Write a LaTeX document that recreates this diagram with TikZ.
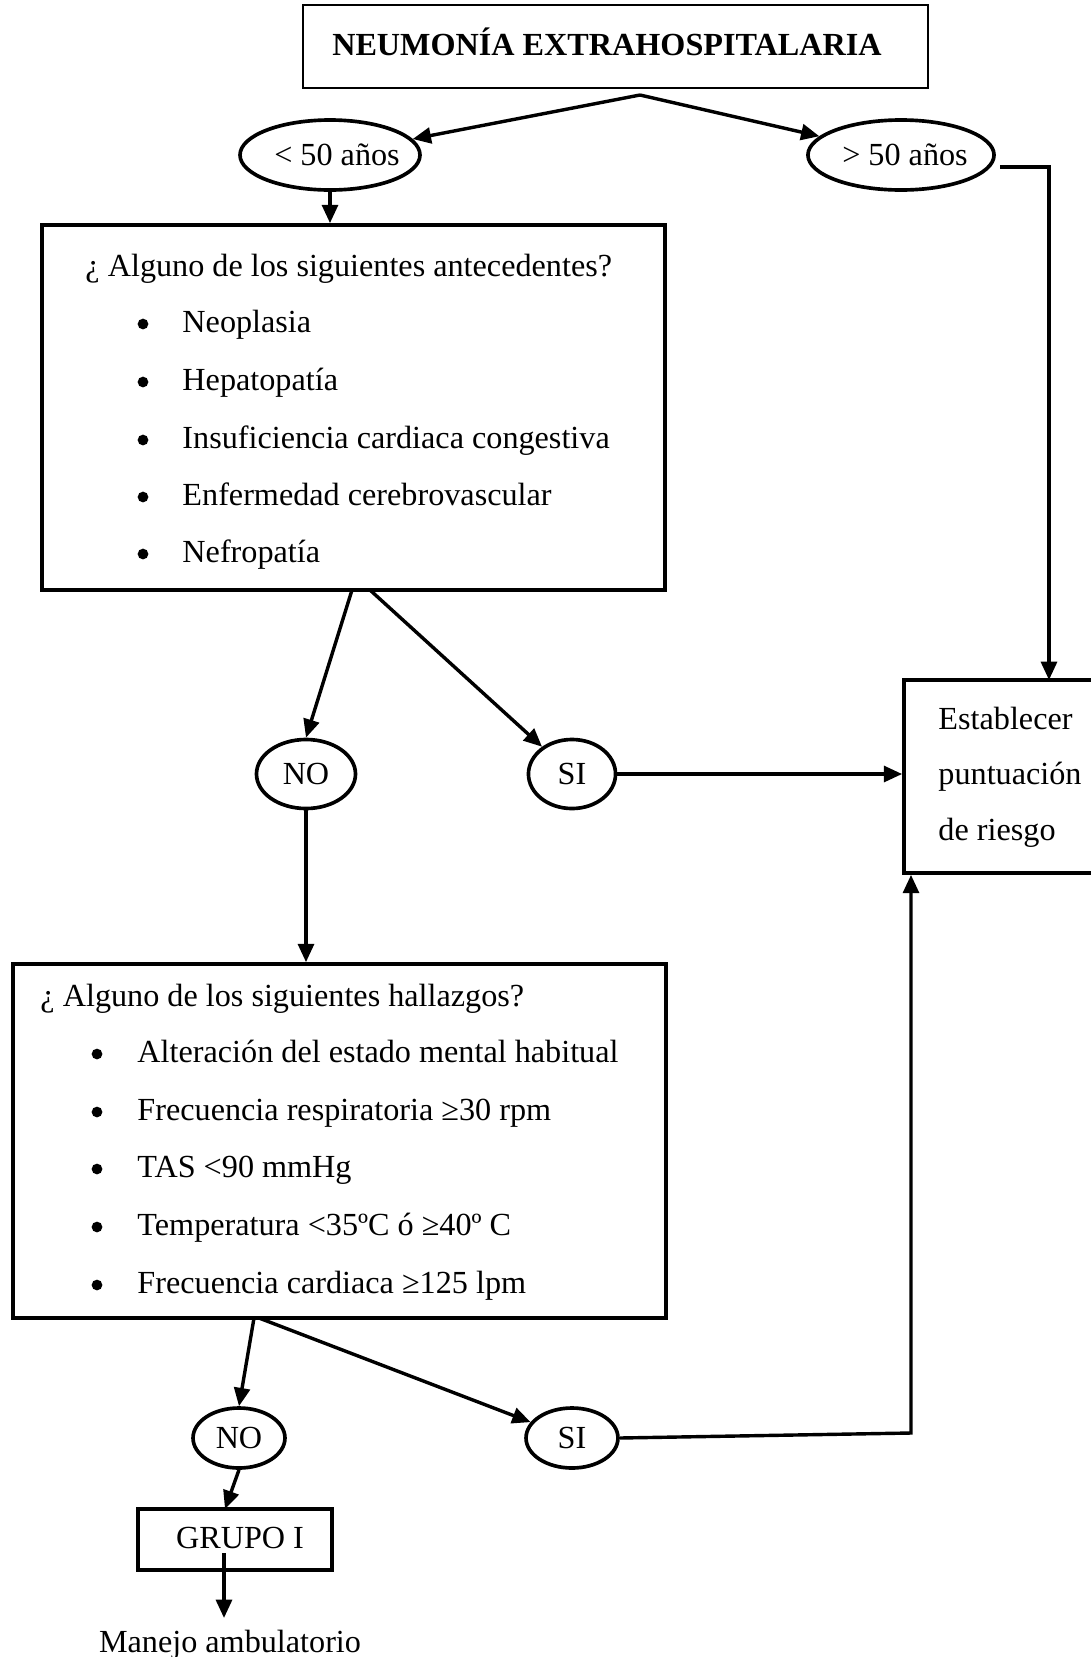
\documentclass[tikz,border=0pt]{standalone}
\usepackage{fontspec}
\setmainfont{Liberation Serif}
\usetikzlibrary{arrows.meta,shapes.geometric,fit}
\begin{document}
\begin{tikzpicture}[x=0.41pt,y=-0.41pt,
  every node/.style={font=\fontsize{13.2}{15}\selectfont},
  box/.style={draw,line width=1.5pt,inner sep=0pt},
  oval/.style={draw,ellipse,line width=1.5pt,inner sep=0pt},
  txt/.style={anchor=west,inner sep=0pt,text height=2.2ex,text depth=.4ex},
  ctxt/.style={anchor=center,inner sep=0pt,text height=2.2ex,text depth=.4ex},
  bul/.style={circle,fill,inner sep=0pt,minimum size=4.4pt},
  arr/.style={line width=1.4pt,-{Triangle[length=7.5pt,width=6.5pt]}},
  ln/.style={line width=1.4pt}]
\useasboundingbox (0,0) rectangle (1091,1657);
\begin{scope}
\clip (0,0) rectangle (1091,1657);

% title
\node[box,line width=0.7pt,fit={(303,5)(928,88)}] (title) {};
\node[ctxt,font=\fontsize{13.2}{15}\selectfont\bfseries] (titletxt) at (607,45) {NEUMONÍA EXTRAHOSPITALARIA};
\coordinate (split) at (640,95);

% age ellipses
\node[oval,minimum width=73.8pt,minimum height=28.7pt] (lt50) at (330,155) {};
\node[ctxt] (lt50txt) at (337,155) {< 50 años};
\node[oval,minimum width=76.3pt,minimum height=28.7pt] (gt50) at (901,155) {};
\node[ctxt] (gt50txt) at (905,155) {> 50 años};

% box 1
\node[box,fit={(42,225)(665,590)}] (box1) {};
\node[txt] (b1t) at (85,266) {¿ Alguno de los siguientes antecedentes?};
\node[bul] (b1a) at (143,324) {};
\node[txt] (b1at) at (182,322) {Neoplasia};
\node[bul] (b1b) at (143,382) {};
\node[txt] (b1bt) at (182,380) {Hepatopatía};
\node[bul] (b1c) at (143,440) {};
\node[txt] (b1ct) at (182,438) {Insuficiencia cardiaca congestiva};
\node[bul] (b1d) at (143,497) {};
\node[txt] (b1dt) at (182,495) {Enfermedad cerebrovascular};
\node[bul] (b1e) at (143,554) {};
\node[txt] (b1et) at (182,552) {Nefropatía};

% NO / SI first level
\node[oval,minimum width=40.6pt,minimum height=28.3pt] (no1) at (306,774) {};
\node[ctxt] (no1txt) at (306,774) {NO};
\node[oval,minimum width=35.7pt,minimum height=28.3pt] (si1) at (572,774) {};
\node[ctxt] (si1txt) at (572,774) {SI};

% risk box
\node[box,fit={(904,680)(1100,873)}] (est) {};
\node[txt] (e1) at (938,719) {Establecer};
\node[txt] (e2) at (938,774) {puntuación};
\node[txt] (e3) at (938,830) {de riesgo};

% box 2
\node[box,fit={(13,964)(666,1318)}] (box2) {};
\node[txt] (b2t) at (40,996) {¿ Alguno de los siguientes hallazgos?};
\node[bul] (b2a) at (97,1054) {};
\node[txt] (b2at) at (137,1052) {Alteración del estado mental habitual};
\node[bul] (b2b) at (97,1112) {};
\node[txt] (b2bt) at (137,1110) {Frecuencia respiratoria ≥30 rpm};
\node[bul] (b2c) at (97,1169) {};
\node[txt] (b2ct) at (137,1167) {TAS <90 mmHg};
\node[bul] (b2d) at (97,1227) {};
\node[txt] (b2dt) at (137,1225) {Temperatura <35ºC ó ≥40º C};
\node[bul] (b2e) at (97,1285) {};
\node[txt] (b2et) at (137,1283) {Frecuencia cardiaca ≥125 lpm};

% NO / SI second level
\node[oval,minimum width=37.7pt,minimum height=24.6pt] (no2) at (239,1438) {};
\node[ctxt] (no2txt) at (239,1438) {NO};
\node[oval,minimum width=37.7pt,minimum height=24.6pt] (si2) at (572,1438) {};
\node[ctxt] (si2txt) at (572,1438) {SI};

% group box
\node[box,fit={(138,1509)(332,1570)}] (grp) {};
\node[ctxt] (grptxt) at (240,1538) {GRUPO I};
\node[ctxt] (man) at (230,1642) {Manejo ambulatorio};

% connectors
\draw[arr] (split) -- (lt50);
\draw[arr] (split) -- (gt50);
\draw[arr] (lt50.south) -- (lt50.south |- box1.north);

\coordinate (f1) at (352,590);
\coordinate (f2) at (370,590);
\draw[arr] (f1) -- (no1.north);
\draw[arr] (f2) -- (si1);
\draw[arr] (si1.east) -- (si1.east -| est.west);

\coordinate (g1) at (1000,167);
\coordinate (g2) at (1049,680);
\draw[arr] (g1) -| (g2);

\draw[arr] (no1.south) -- (no1.south |- box2.north);

\coordinate (h1) at (254,1318);
\coordinate (h2) at (259,1318);
\draw[arr] (h1) -- (no2.north);
\draw[arr] (h2) -- (si2);

\coordinate (s2) at (911,1433);
\draw[arr] (si2.east) -- (s2) -- (s2 |- est.south);

\coordinate (gtop) at (225,1509);
\draw[arr] (no2.south) -- (gtop);

\coordinate (m1) at (224,1553);
\coordinate (m2) at (224,1618);
\draw[arr] (m1) -- (m2);
\end{scope}
\end{tikzpicture}
\end{document}
